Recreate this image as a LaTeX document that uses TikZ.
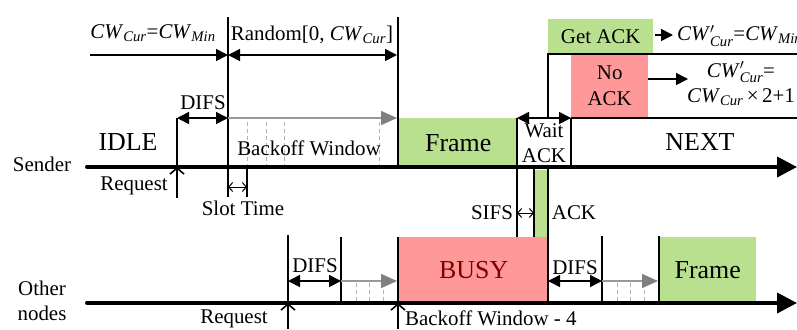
\documentclass[tikz,border=0pt]{standalone}
\usepackage{amsmath}
\usepackage{fontspec}
\setmainfont{Liberation Serif}
\usetikzlibrary{arrows.meta}
\definecolor{fgreen}{RGB}{185,224,143}
\definecolor{fred}{RGB}{255,153,153}
\definecolor{busyred}{RGB}{128,0,0}
\definecolor{garr}{RGB}{128,128,128}
\newcommand{\cwcur}{\textit{CW}\textsubscript{\textit{Cur}}}
\newcommand{\cwmin}{\textit{CW}\textsubscript{\textit{Min}}}
\newcommand{\cwcurp}{\textit{CW}$^{\prime}_{\textit{Cur}}$}
\begin{document}
\begin{tikzpicture}[x=1bp,y=-1bp,
  txt/.style={font=\fontsize{21}{25.5}\selectfont, inner sep=0pt},
  big/.style={font=\fontsize{26}{30}\selectfont, inner sep=0pt},
  boxn/.style={draw=none, inner sep=0pt, anchor=north west},
  vline/.style={line width=1.6bp},
  axisline/.style={line width=4bp, line cap=round, -{Triangle[length=20bp,width=20bp]}},
  dbl/.style={line width=1.6bp, {Triangle[length=12bp,width=12bp]}-{Triangle[length=12bp,width=12bp]}},
  sgl/.style={line width=1.6bp, -{Triangle[length=12bp,width=12bp]}},
  garrow/.style={draw=garr!80, line width=1.6bp, -{Triangle[length=16bp,width=14bp,color=garr]}},
  gdash/.style={draw=gray!60, line width=1bp, dash pattern=on 4bp off 3bp},
  slotarr/.style={line width=1bp, {Straight Barb[length=4bp,width=9bp]}-{Straight Barb[length=4bp,width=9bp]}},
  reqarr/.style={line width=1.6bp, -{Straight Barb[length=6bp,width=14bp]}}
]
\useasboundingbox (0,0) rectangle (797,329);

% ---------- boxes ----------
\node[boxn, fill=fgreen, minimum width=118bp, minimum height=49bp, big] (sframe) at (399,118) {Frame};
\node[boxn, fill=fgreen, minimum width=105bp, minimum height=35bp, txt] (getack) at (548,19) {Get ACK};
\node[boxn, fill=fred, minimum width=77bp, minimum height=63bp, txt, align=center] (noack) at (571,54) {No\\ACK};
\node[boxn, fill=fgreen, minimum width=13bp, minimum height=67bp] (ackbar) at (535,170) {};
\node[boxn, fill=fred, minimum width=149bp, minimum height=66bp, big, text=busyred] (busy) at (399,237) {BUSY};
\node[boxn, fill=fgreen, minimum width=97bp, minimum height=66bp, big] (oframe) at (659,237) {Frame};

% ---------- coordinates ----------
\coordinate (sA0) at (87,167);  \coordinate (sA1) at (797,167);
\coordinate (oA0) at (87,303);  \coordinate (oA1) at (797,303);
\coordinate (r1t) at (177,118); \coordinate (r1m) at (177,167); \coordinate (r1b) at (177,198);
\coordinate (v2t) at (228,17);  \coordinate (v2b) at (228,197);
\coordinate (v3t) at (247,167); \coordinate (v3b) at (247,197);
\coordinate (v4t) at (398,17);  \coordinate (v4b) at (398,167);
\coordinate (cwl) at (90,55);   \coordinate (cwm) at (228,55); \coordinate (cwr) at (397,55);
\coordinate (d1l) at (177,118); \coordinate (d1r) at (228,118); \coordinate (g1r) at (397,118);
\coordinate (sl1) at (228,187); \coordinate (sl2) at (247,187);
\coordinate (w1t) at (517,118); \coordinate (w1b) at (517,237);
\coordinate (w2t) at (571,118); \coordinate (w2b) at (571,167);
\coordinate (nx1) at (797,118);
\coordinate (k1b) at (548,118); \coordinate (k1t) at (548,54); \coordinate (k1r) at (797,54);
\coordinate (a1t) at (534,167); \coordinate (a1b) at (534,237);
\coordinate (a2t) at (548,167); \coordinate (a2b) at (548,303);
\coordinate (si1) at (517,213); \coordinate (si2) at (534,213);
\coordinate (ga1) at (655,35);  \coordinate (ga2) at (673,35);
\coordinate (na1) at (648,79);  \coordinate (na2) at (688,79);
\coordinate (r2t) at (288,235); \coordinate (r2m) at (288,303); \coordinate (r2b) at (288,329);
\coordinate (o2t) at (341,237); \coordinate (o2b) at (341,303);
\coordinate (o3t) at (398,237); \coordinate (o3m) at (398,303); \coordinate (o3b) at (398,329);
\coordinate (d2l) at (288,281); \coordinate (d2r) at (341,281); \coordinate (g2r) at (397,281);
\coordinate (d3l) at (548,281); \coordinate (d3r) at (602,281); \coordinate (g3r) at (658,281);
\coordinate (o4t) at (602,236); \coordinate (o4b) at (602,303);
\coordinate (o5t) at (659,236); \coordinate (o5b) at (659,303);

% ---------- dashed backoff slots ----------
\foreach \x in {247,266,284,379} \draw[gdash] (\x,122) -- (\x,167);
\foreach \x in {356,369,383,617,630,644} \draw[gdash] (\x,283) -- (\x,303);

% ---------- vertical lines ----------
\draw[vline] (r1t) -- (r1b);
\draw[reqarr] (r1b) -- (r1m);
\draw[vline] (v2t) -- (v2b);
\draw[vline] (v3t) -- (v3b);
\draw[vline] (v4t) -- (v4b);
\draw[vline] (w1t) -- (w1b);
\draw[vline] (w2t) -- (w2b);
\draw[vline] (w2t) -- (nx1);
\draw[vline] (k1b) -- (k1t) -- (k1r);
\draw[vline] (a1t) -- (a1b);
\draw[vline] (a2t) -- (a2b);
\draw[vline] (r2t) -- (r2b);
\draw[reqarr] (r2b) -- (r2m);
\draw[vline] (o2t) -- (o2b);
\draw[vline] (o3t) -- (o3b);
\draw[reqarr] (o3b) -- (o3m);
\draw[vline] (o4t) -- (o4b);
\draw[vline] (o5t) -- (o5b);

% ---------- arrows ----------
\draw[sgl] (cwl) -- (cwm);
\draw[dbl] (cwm) -- (cwr);
\draw[dbl] (d1l) -- (d1r);
\draw[garrow] (d1r) -- (g1r);
\draw[slotarr] (sl1) -- (sl2);
\draw[dbl] (w1t) -- (w2t);
\draw[slotarr] (si1) -- (si2);
\draw[sgl] (ga1) -- (ga2);
\draw[sgl] (na1) -- (na2);
\draw[dbl] (d2l) -- (d2r);
\draw[garrow] (d2r) -- (g2r);
\draw[dbl] (d3l) -- (d3r);
\draw[garrow] (d3r) -- (g3r);

% ---------- axes ----------
\draw[axisline] (sA0) -- (sA1);
\draw[axisline] (oA0) -- (oA1);

% ---------- labels ----------
\node[txt] (sender) at (42,164) {Sender};
\node[txt, align=center] (other) at (42,301) {Other\\nodes};
\node[big] (idle) at (128,142) {IDLE};
\node[txt] (req1) at (134,186) {Request};
\node[txt] (slot) at (243,208) {Slot Time};
\node[txt] (difs1) at (203,103) {DIFS};
\node[txt] (bw) at (309,148) {Backoff Window};
\node[txt] (cw0) at (153,33) {\cwcur=\cwmin};
\node[txt] (rnd) at (312,35) {Random[0, \cwcur]};
\node[txt, align=center] (wait) at (544,143) {Wait\\ACK};
\node[txt, anchor=west] (cwmn) at (677,36) {\cwcurp=\cwmin};
\node[txt, align=center] (cwx) at (741,84) {\cwcurp=\\\cwcur\,×\,2+1};
\node[big] (next) at (700,142) {NEXT};
\node[txt] (sifs) at (492,213) {SIFS};
\node[txt] (ack) at (574,213) {ACK};
\node[txt] (req2) at (234,319) {Request};
\node[txt] (difs2) at (315,266) {DIFS};
\node[txt, anchor=west] (bw4) at (405,318) {Backoff Window - 4};
\node[txt] (difs3) at (575,268) {DIFS};
\end{tikzpicture}
\end{document}
